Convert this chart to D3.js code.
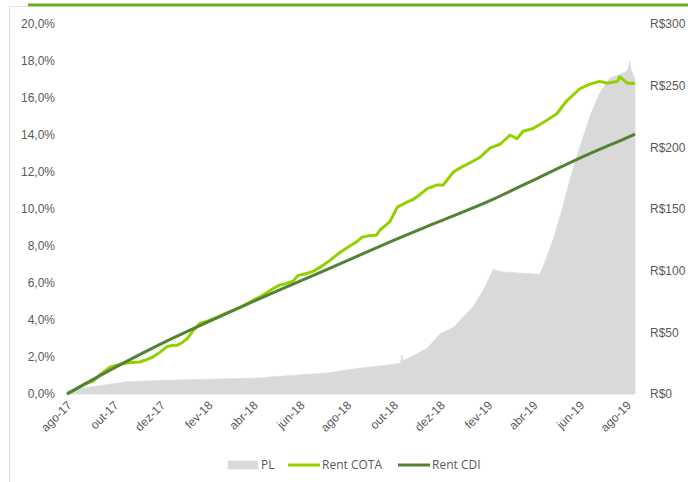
<!DOCTYPE html>
<html>
<head>
<meta charset="utf-8">
<script src="https://cdn.jsdelivr.net/npm/d3@7"></script>
<style>
  body { margin: 0; background: #fff; }
  svg { font-family: "Open Sans", sans-serif; }
  .axis text { fill: #595959; font-size: 12px; }
  .axis path, .axis line { display: none; }
</style>
</head>
<body>
<div id="chart"></div>
<script>
// Rent COTA (%)
var rentCota = [
  ["2017-08-01", 0.0], ["2017-08-14", 0.3], ["2017-08-25", 0.55], ["2017-09-04", 0.7],
  ["2017-09-15", 1.1], ["2017-09-26", 1.45], ["2017-10-08", 1.6], ["2017-10-18", 1.67],
  ["2017-10-28", 1.72], ["2017-11-04", 1.73], ["2017-11-12", 1.85], ["2017-11-21", 2.0],
  ["2017-11-30", 2.25], ["2017-12-09", 2.55], ["2017-12-16", 2.62], ["2017-12-23", 2.64],
  ["2017-12-30", 2.8], ["2018-01-05", 3.0], ["2018-01-13", 3.45], ["2018-01-22", 3.83],
  ["2018-02-01", 3.95], ["2018-02-13", 4.15], ["2018-02-23", 4.35], ["2018-03-06", 4.53],
  ["2018-03-18", 4.75], ["2018-04-01", 5.07], ["2018-04-14", 5.35], ["2018-04-27", 5.7],
  ["2018-05-06", 5.9], ["2018-05-12", 5.95], ["2018-05-23", 6.1], ["2018-05-29", 6.4],
  ["2018-06-08", 6.5], ["2018-06-18", 6.63], ["2018-06-29", 6.9], ["2018-07-10", 7.22],
  ["2018-07-23", 7.65], ["2018-08-05", 8.0], ["2018-08-13", 8.2], ["2018-08-21", 8.48],
  ["2018-08-30", 8.55], ["2018-09-09", 8.6], ["2018-09-13", 8.85], ["2018-09-26", 9.3],
  ["2018-10-06", 10.1], ["2018-10-19", 10.38], ["2018-10-26", 10.5], ["2018-11-05", 10.8],
  ["2018-11-14", 11.1], ["2018-11-27", 11.3], ["2018-12-05", 11.3], ["2018-12-18", 12.0],
  ["2018-12-28", 12.25], ["2019-01-09", 12.5], ["2019-01-22", 12.8], ["2019-02-04", 13.3],
  ["2019-02-17", 13.5], ["2019-03-02", 14.0], ["2019-03-11", 13.8], ["2019-03-19", 14.2],
  ["2019-04-01", 14.35], ["2019-04-19", 14.8], ["2019-05-02", 15.15], ["2019-05-15", 15.85],
  ["2019-06-01", 16.5], ["2019-06-14", 16.75], ["2019-06-27", 16.9], ["2019-07-07", 16.8],
  ["2019-07-20", 16.9], ["2019-07-23", 17.15], ["2019-08-02", 16.8], ["2019-08-12", 16.8]
];

// Rent CDI (%)
var rentCdi = [
  ["2017-08-01", 0.0], ["2017-10-01", 1.4], ["2017-12-01", 2.7], ["2018-02-01", 3.9],
  ["2018-04-01", 5.0], ["2018-06-01", 6.1], ["2018-08-01", 7.2], ["2018-10-01", 8.3],
  ["2018-12-01", 9.35], ["2019-02-01", 10.4], ["2019-04-01", 11.55], ["2019-06-01", 12.75],
  ["2019-08-01", 13.85], ["2019-08-12", 14.05]
];

// PL (R$)
var pl = [
  ["2017-08-01", 3], ["2017-09-04", 6], ["2017-10-18", 10], ["2017-11-30", 11],
  ["2018-04-10", 13], ["2018-04-27", 14], ["2018-07-06", 17], ["2018-08-18", 21],
  ["2018-09-30", 24], ["2018-10-10", 25], ["2018-10-12", 32], ["2018-10-14", 27],
  ["2018-11-14", 37], ["2018-12-01", 49], ["2018-12-18", 54], ["2019-01-13", 71],
  ["2019-01-26", 84], ["2019-02-08", 101], ["2019-02-20", 99], ["2019-04-10", 97],
  ["2019-04-14", 103], ["2019-04-27", 125], ["2019-05-10", 152], ["2019-05-19", 174],
  ["2019-06-01", 200], ["2019-06-14", 225], ["2019-06-27", 244], ["2019-07-10", 256],
  ["2019-07-23", 259], ["2019-08-02", 262], ["2019-08-05", 270], ["2019-08-07", 263],
  ["2019-08-12", 255]
];

var xTickDates = ["2017-08-01", "2017-10-01", "2017-12-01", "2018-02-01", "2018-04-01",
  "2018-06-01", "2018-08-01", "2018-10-01", "2018-12-01", "2019-02-01", "2019-04-01",
  "2019-06-01", "2019-08-01"];
var xTickLabels = ["ago-17", "out-17", "dez-17", "fev-18", "abr-18", "jun-18", "ago-18",
  "out-18", "dez-18", "fev-19", "abr-19", "jun-19", "ago-19"];
var pctTicks = [0, 2, 4, 6, 8, 10, 12, 14, 16, 18, 20];
var plTicks = [0, 50, 100, 150, 200, 250, 300];

var legendItems = [
  { name: "PL", type: "area", color: "#d9d9d9" },
  { name: "Rent COTA", type: "line", color: "#92d000" },
  { name: "Rent CDI", type: "line", color: "#548235" }
];

var width = 688, height = 482;
var parseDate = d3.timeParse("%Y-%m-%d");
var br = d3.formatLocale({ decimal: ",", thousands: ".", grouping: [3], currency: ["R$", ""] });

var svg = d3.select("#chart").append("svg")
    .attr("width", width)
    .attr("height", height);

// frame
svg.append("line")
    .attr("x1", 9.5).attr("x2", 9.5).attr("y1", 6).attr("y2", height)
    .attr("stroke", "#d9d9d9").attr("stroke-width", 1);
svg.append("line")
    .attr("x1", 9).attr("x2", 28).attr("y1", 6.5).attr("y2", 6.5)
    .attr("stroke", "#e3e3e3").attr("stroke-width", 1);
svg.append("line")
    .attr("x1", 28).attr("x2", width).attr("y1", 5).attr("y2", 5)
    .attr("stroke", "#6aad1e").attr("stroke-width", 3);

var xScale = d3.scaleTime()
    .domain([parseDate("2017-08-01"), parseDate("2019-08-12")])
    .range([67, 635]);
var yScale = d3.scaleLinear().domain([0, 20]).range([394, 24]);
var y2Scale = d3.scaleLinear().domain([0, 300]).range([394, 24]);

function rows(arr) {
    return arr.map(function (d) { return { date: parseDate(d[0]), value: d[1] }; });
}

// PL area
var area = d3.area()
    .x(function (d) { return xScale(d.date); })
    .y0(y2Scale(0))
    .y1(function (d) { return y2Scale(d.value); });

svg.append("path")
    .datum(rows(pl))
    .attr("d", area)
    .attr("fill", "#d9d9d9")
    .attr("stroke", "#dbe1e8")
    .attr("stroke-width", 0.8);

var line = d3.line()
    .x(function (d) { return xScale(d.date); })
    .y(function (d) { return yScale(d.value); });

svg.append("path")
    .datum(rows(rentCota))
    .attr("d", line)
    .attr("fill", "none")
    .attr("stroke", "#92d000")
    .attr("stroke-width", 3)
    .attr("stroke-linejoin", "round");

svg.append("path")
    .datum(rows(rentCdi))
    .attr("d", line.curve(d3.curveMonotoneX))
    .attr("fill", "none")
    .attr("stroke", "#548235")
    .attr("stroke-width", 3)
    .attr("stroke-linejoin", "round");

// axes
var yAxis = d3.axisLeft(yScale)
    .tickValues(pctTicks)
    .tickSize(0).tickPadding(5)
    .tickFormat(br.format(".1f"));
svg.append("g").classed("axis", true)
    .attr("transform", "translate(60,0)")
    .call(yAxis)
    .selectAll("text").text(function (d) { return br.format(".1f")(d) + "%"; });

var y2Axis = d3.axisRight(y2Scale)
    .tickValues(plTicks)
    .tickSize(0).tickPadding(5)
    .tickFormat(function (d) { return "R$" + d; });
svg.append("g").classed("axis", true)
    .attr("transform", "translate(645,0)")
    .call(y2Axis);

var xAxis = d3.axisBottom(xScale)
    .tickValues(xTickDates.map(parseDate))
    .tickSize(0)
    .tickFormat(function (d, i) { return xTickLabels[i]; });
svg.append("g").classed("axis", true)
    .attr("transform", "translate(0,394)")
    .call(xAxis)
    .selectAll("text")
    .attr("x", 0).attr("y", 0).attr("dy", "0.35em")
    .attr("transform", "translate(2,9) rotate(-45)")
    .style("text-anchor", "end");

// legend
var lg = svg.append("g").attr("transform", "translate(228,465)");
var offsets = [0, 60, 170];
legendItems.forEach(function (item, i) {
    var g = lg.append("g").attr("transform", "translate(" + offsets[i] + ",0)");
    if (item.type === "area") {
        g.append("rect").attr("x", 0).attr("y", -4).attr("width", 30).attr("height", 8)
            .attr("fill", item.color).attr("stroke", "#dbe1e8").attr("stroke-width", 0.8);
    } else {
        g.append("line").attr("x1", 0).attr("x2", 32).attr("y1", 0).attr("y2", 0)
            .attr("stroke", item.color).attr("stroke-width", 3);
    }
    g.append("text")
        .attr("x", item.type === "area" ? 33 : 34)
        .attr("y", 0).attr("dy", "0.35em")
        .attr("fill", "#595959").style("font-size", "12px")
        .text(item.name);
});
</script>
</body>
</html>
